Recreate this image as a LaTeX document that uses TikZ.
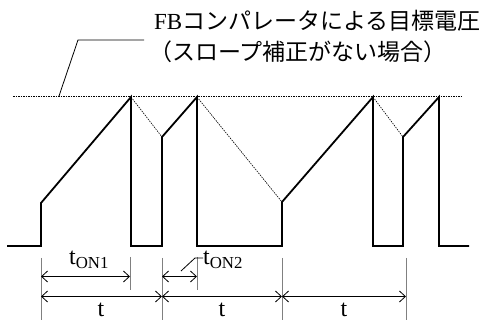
\documentclass[tikz,border=0pt]{standalone}
\usepackage{fontspec}
\setmainfont{Liberation Serif}
\newfontfamily\jpfont{Noto Sans CJK JP}
\usetikzlibrary{arrows.meta}
\begin{document}
\begin{tikzpicture}[x=1pt,y=-1pt,
  wave/.style={line width=1.8pt,line join=miter},
  dotline/.style={line width=0.6pt,dash pattern=on 1.5pt off 1pt},
  tickline/.style={line width=0.9pt,gray},
  dimline/.style={line width=0.8pt,{Straight Barb[length=6pt,width=11pt]}-{Straight Barb[length=6pt,width=11pt]}},
  lbl/.style={font=\fontsize{24}{26}\selectfont,inner sep=0pt},
  jlbl/.style={font=\fontsize{23}{25}\selectfont,inner sep=0pt}]
\useasboundingbox (0,0) rectangle (495,320);
% waveform points
\coordinate (w0) at (7,246);
\coordinate (a1) at (41,246); \coordinate (a2) at (41,203); \coordinate (p1) at (131,97); \coordinate (a3) at (131,246);
\coordinate (b1) at (162,246); \coordinate (b2) at (162,137); \coordinate (p2) at (197,97); \coordinate (b3) at (197,246);
\coordinate (c1) at (282,246); \coordinate (c2) at (282,202); \coordinate (p3) at (373,97); \coordinate (c3) at (373,246);
\coordinate (d1) at (403,246); \coordinate (d2) at (403,137); \coordinate (p4) at (439,97); \coordinate (d3) at (439,246);
\coordinate (we) at (469,246);
\draw[wave] (w0) -- (a1) -- (a2) -- (p1) -- (a3) -- (b1) -- (b2) -- (p2) -- (b3) -- (c1) -- (c2) -- (p3) -- (c3) -- (d1) -- (d2) -- (p4) -- (d3) -- (we);
% target level and projections
\coordinate (L0) at (13,96); \coordinate (L1) at (463,96);
\draw[dotline] (L0) -- (L1);
\draw[dotline] (p1) -- (b2);
\draw[dotline] (p2) -- (c2);
\draw[dotline] (p3) -- (d2);
% label with leader
\node[jlbl,anchor=base west] (title1) at (154,30) {FB{\jpfont コンパレータによる目標電圧}};
\node[jlbl,anchor=base west] (title2) at (149,61) {\jpfont （スロープ補正がない場合）};
\coordinate (q0) at (59,96); \coordinate (q1) at (78,40); \coordinate (q2) at (144,40);
\draw[line width=0.8pt] (q0) -- (q1) -- (q2);
% ticks
\coordinate (t1a) at (41,258); \coordinate (t1b) at (41,320);
\coordinate (t2a) at (130,257); \coordinate (t2b) at (130,290);
\coordinate (t3a) at (162,258); \coordinate (t3b) at (162,320);
\coordinate (t4a) at (197,257); \coordinate (t4b) at (197,290);
\coordinate (t5a) at (282,258); \coordinate (t5b) at (282,320);
\coordinate (t6a) at (406,258); \coordinate (t6b) at (406,320);
\foreach \i in {1,...,6} {\draw[tickline] (t\i a) -- (t\i b);}
% dimension arrows
\coordinate (on1a) at (41,276.5); \coordinate (on1b) at (130,276.5);
\coordinate (on2a) at (162,276.5); \coordinate (on2b) at (197,276.5);
\coordinate (ta) at (41,296.5); \coordinate (tb) at (162,296.5); \coordinate (tc) at (282,296.5); \coordinate (td) at (406,296.5);
\draw[dimline] (on1a) -- (on1b);
\draw[dimline] (on2a) -- (on2b);
\draw[dimline] (ta) -- (tb);
\draw[dimline] (tb) -- (tc);
\draw[dimline] (tc) -- (td);
\node[lbl,anchor=base] (ton1) at (89,265) {t\textsubscript{ON1}};
\node[lbl,anchor=base west] (ton2) at (203,265) {t\textsubscript{ON2}};
\coordinate (r0) at (181,271); \coordinate (r1) at (195,258);
\draw[line width=0.8pt] (r0) -- (r1) -- (ton2.base west |- r1);
\node[lbl,anchor=base] (tt1) at (101,316) {t};
\node[lbl,anchor=base] (tt2) at (222,316) {t};
\node[lbl,anchor=base] (tt3) at (344,316) {t};
\end{tikzpicture}
\end{document}
